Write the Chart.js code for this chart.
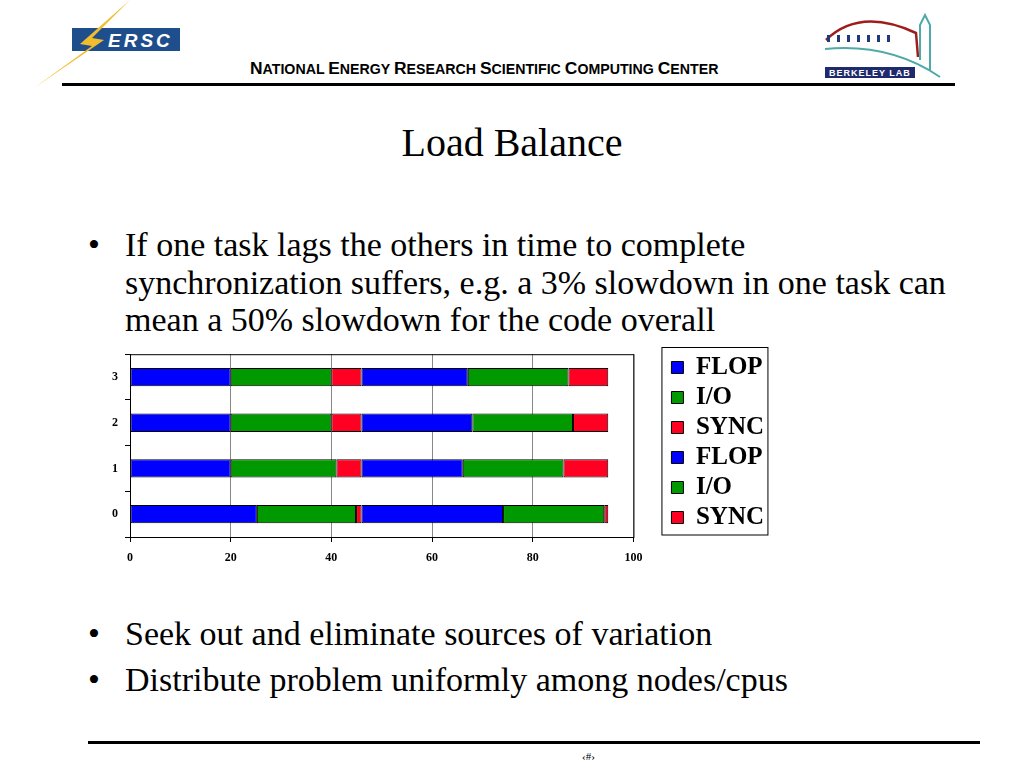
<!DOCTYPE html>
<html>
<head>
<meta charset="utf-8">
<script src="https://cdn.jsdelivr.net/npm/chart.js@4.4.0/dist/chart.umd.min.js"></script>
<style>
  body { margin: 0; width: 1024px; height: 768px; background: #fff; position: relative; overflow: hidden; font-family: "Liberation Serif", "Times New Roman", serif; }
  .abs { position: absolute; }
  .header { left: 250px; top: 58px; font-family: "Liberation Sans", Arial, sans-serif; font-weight: bold; font-size: 14.2px; white-space: nowrap; }
  .header b { font-size: 17.4px; }
  .rule-top { left: 62px; top: 83px; width: 893px; height: 3px; background: #000; }
  .rule-bottom { left: 88px; top: 741px; width: 892px; height: 3px; background: #000; }
  .title { left: 0; width: 1024px; top: 120px; text-align: center; font-size: 40px; line-height: 46px; }
  .bullets { left: 88px; font-size: 34px; line-height: 37.5px; white-space: nowrap; }
  .bullets div { position: relative; padding-left: 37px; }
  .bullets div::before { content: "\2022"; position: absolute; left: 0; }
  .footer { left: 582px; top: 750px; font-size: 11px; }
  #wrap { left: 100px; top: 340px; width: 680px; height: 230px; }
</style>
</head>
<body>
<svg class="abs" style="left:30px;top:0" width="160" height="90">
  <rect x="42" y="28" width="108" height="23" fill="#1f4e8c"/>
  <text x="78" y="47" font-family="Liberation Sans" font-weight="bold" font-style="italic" font-size="19" fill="#fff" letter-spacing="3">ERSC</text>
  <polygon points="100,0 62,38 74,40 4,88 62,46 50,44" fill="#f2bd2c"/>
</svg>
<div class="abs header"><b>N</b>ATIONAL <b>E</b>NERGY <b>R</b>ESEARCH <b>S</b>CIENTIFIC <b>C</b>OMPUTING <b>C</b>ENTER</div>
<svg class="abs" style="left:820px;top:5px" width="125" height="75">
  <path d="M6 35 Q40 2 96 28 L98 52" fill="none" stroke="#a01c1c" stroke-width="2.5"/>
  <g fill="#1f3a7a">
    <rect x="7" y="30" width="3" height="7"/><rect x="17" y="30" width="3" height="7"/><rect x="27" y="30" width="3" height="7"/>
    <rect x="37" y="30" width="3" height="7"/><rect x="47" y="30" width="3" height="7"/><rect x="57" y="30" width="3" height="7"/>
    <rect x="67" y="30" width="3" height="7"/>
  </g>
  <path d="M5 44 Q70 38 120 72" fill="none" stroke="#4fa9a9" stroke-width="2"/>
  <path d="M100 55 L100 20 L105 10 L110 20 L110 66" fill="none" stroke="#4fa9a9" stroke-width="2"/>
  <rect x="5" y="62" width="90" height="11" fill="#1f2a6e"/>
  <text x="9" y="71" font-family="Liberation Sans" font-weight="bold" font-size="9" fill="#fff" letter-spacing="1">BERKELEY LAB</text>
</svg>
<div class="abs rule-top"></div>
<div class="abs title">Load Balance</div>
<div class="abs bullets" style="top:226px">
  <div>If one task lags the others in time to complete<br>synchronization suffers, e.g. a 3% slowdown in one task can<br>mean a 50% slowdown for the code overall</div>
</div>
<div class="abs bullets" style="top:611px; line-height:46px">
  <div>Seek out and eliminate sources of variation</div>
  <div>Distribute problem uniformly among nodes/cpus</div>
</div>
<div class="abs" id="wrap"><canvas id="loadChart"></canvas></div>
<div class="abs rule-bottom"></div>
<div class="abs footer">‹#›</div>

<script>
const categories = ['0', '1', '2', '3'];
const seriesNames = ['FLOP', 'I/O', 'SYNC', 'FLOP', 'I/O', 'SYNC'];
const flop1 = [25.2, 20, 20, 20];
const io1 = [19.7, 21, 20, 20];
const sync1 = [1.1, 5, 6, 6];
const flop2 = [28.1, 20.1, 22, 21.1];
const io2 = [20.1, 20, 20, 20];
const sync2 = [0.8, 8.9, 7, 7.9];
const xTicks = [0, 20, 40, 60, 80, 100];

const colors = ['#0000ff', '#009900', '#ff0022', '#0000ff', '#009900', '#ff0022'];
const seriesValues = [flop1, io1, sync1, flop2, io2, sync2];

// plot frame + legend box
const frame = {
    id: 'frame',
    afterDraw(chart) {
        const { ctx, chartArea: a, legend: l } = chart;
        const boxes = l.legendHitBoxes;
        const last = boxes[boxes.length - 1];
        ctx.save();
        ctx.strokeStyle = '#000';
        ctx.lineWidth = 1;
        ctx.strokeRect(a.left + 0.5, a.top + 0.5, a.width, a.height);
        const top = l.top - 3;
        const bottom = last.top + last.height / 2 + 17;
        ctx.strokeRect(l.left - 4.5, top + 0.5, 106, bottom - top);
        ctx.restore();
    }
};

const hidden = (size, pos, axis) => ({
    type: 'linear',
    axis: axis,
    position: pos,
    display: true,
    grid: { display: false },
    border: { display: false },
    ticks: { display: false },
    afterFit: s => { if (axis === 'x') s.height = size; else s.width = size; }
});

const ctx = document.getElementById('loadChart').getContext('2d');
new Chart(ctx, {
    type: 'bar',
    data: {
        labels: categories,
        datasets: seriesNames.map((name, i) => ({
            label: name,
            data: seriesValues[i],
            backgroundColor: colors[i],
            borderColor: '#000',
            borderWidth: 1,
            borderSkipped: false,
            barPercentage: 0.8,
            categoryPercentage: 0.5
        }))
    },
    options: {
        indexAxis: 'y',
        responsive: true,
        maintainAspectRatio: false,
        animation: false,
        layout: { padding: { top: 10, right: 6, bottom: 0, left: 0 } },
        scales: {
            x: {
                stacked: true,
                min: 0,
                max: 100,
                afterBuildTicks: axis => { axis.ticks = xTicks.map(v => ({ value: v })); },
                afterFit: s => { s.height = 33; },
                grid: { color: '#888', tickLength: 5, tickColor: '#000' },
                border: { color: '#000' },
                ticks: { color: '#000', font: { family: 'Liberation Serif', size: 12, weight: 'bold' }, padding: 9 }
            },
            y: {
                stacked: true,
                reverse: true,
                afterFit: s => { s.width = 30; },
                grid: { offset: true, drawOnChartArea: false, tickLength: 5, color: '#000' },
                border: { color: '#000' },
                ticks: { color: '#000', font: { family: 'Liberation Serif', size: 12, weight: 'bold' }, padding: 7 }
            },
            xTop: hidden(2, 'top', 'x'),
            yRight: hidden(33, 'right', 'y')
        },
        plugins: {
            legend: {
                position: 'right',
                align: 'start',
                labels: {
                    color: '#000',
                    boxWidth: 12,
                    boxHeight: 12,
                    padding: 5,
                    font: { family: 'Liberation Serif', size: 25, weight: 'bold' }
                }
            },
            tooltip: { enabled: false }
        }
    },
    plugins: [frame]
});
</script>
</body>
</html>
